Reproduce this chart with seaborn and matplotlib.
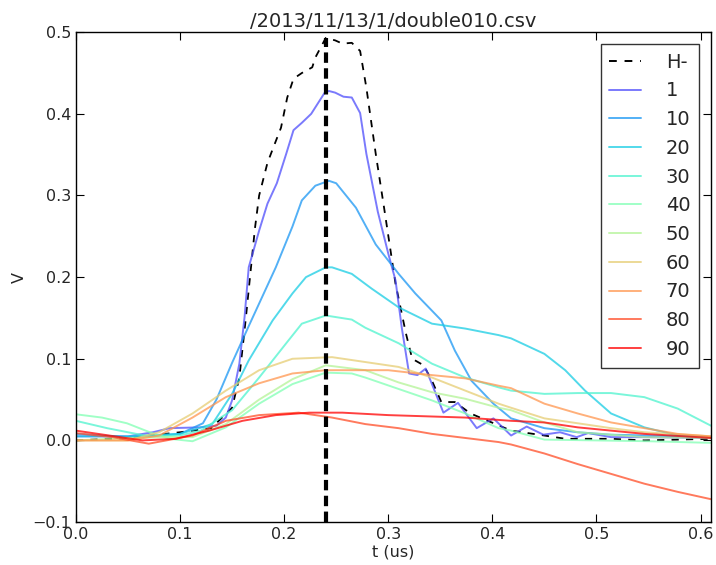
import numpy as np
import pandas as pd
import matplotlib
matplotlib.use("Agg")
import matplotlib.pyplot as plt
import seaborn as sns

# H- reference trace (dashed black)
t_h = [0, 0.05, 0.1, 0.13, 0.15, 0.157, 0.163, 0.172, 0.176, 0.184, 0.19, 0.197, 0.203, 0.209,
       0.217, 0.227, 0.23, 0.24, 0.249, 0.256, 0.265, 0.273, 0.279, 0.288, 0.296, 0.307, 0.317,
       0.323, 0.334, 0.342, 0.351, 0.364, 0.379, 0.418, 0.45, 0.47, 0.514, 0.546, 0.61]
v_h = [0, 0.003, 0.01, 0.015, 0.04, 0.077, 0.147, 0.26, 0.30, 0.34, 0.36, 0.383, 0.42, 0.443,
       0.45, 0.457, 0.469, 0.493, 0.49, 0.486, 0.487, 0.477, 0.432, 0.351, 0.285, 0.192, 0.131,
       0.10, 0.092, 0.073, 0.047, 0.047, 0.033, 0.012, 0.006, 0.002, 0.002, 0.0, 0.002]
t_peak = 0.24

labels = ["1", "10", "20", "30", "40", "50", "60", "70", "80", "90"]

t_1 = [0, 0.05, 0.074, 0.09, 0.119, 0.135, 0.144, 0.15, 0.157, 0.162, 0.166, 0.176, 0.184, 0.193,
       0.202, 0.209, 0.217, 0.226, 0.232, 0.239, 0.243, 0.249, 0.257, 0.265, 0.273, 0.279, 0.29,
       0.30, 0.307, 0.313, 0.32, 0.328, 0.336, 0.353, 0.367, 0.385, 0.401, 0.418, 0.433, 0.449,
       0.465, 0.481, 0.492, 0.514, 0.55, 0.61]
v_1 = [0.005, 0.005, 0.01, 0.015, 0.016, 0.018, 0.028, 0.049, 0.094, 0.151, 0.212, 0.257, 0.29,
       0.315, 0.351, 0.38, 0.389, 0.40, 0.412, 0.426, 0.428, 0.426, 0.421, 0.42, 0.401, 0.351,
       0.28, 0.229, 0.196, 0.138, 0.082, 0.08, 0.088, 0.034, 0.046, 0.015, 0.027, 0.006, 0.017,
       0.007, 0.01, 0.004, 0.009, 0.004, 0.004, 0.003]

t_10 = [0, 0.05, 0.1, 0.122, 0.135, 0.15, 0.166, 0.192, 0.208, 0.217, 0.23, 0.243, 0.25, 0.269,
        0.288, 0.31, 0.326, 0.351, 0.364, 0.38, 0.401, 0.418, 0.45, 0.482, 0.514, 0.55, 0.61]
v_10 = [0.008, 0.004, 0.008, 0.021, 0.05, 0.095, 0.14, 0.212, 0.262, 0.294, 0.312, 0.318, 0.315,
        0.285, 0.24, 0.204, 0.18, 0.147, 0.11, 0.073, 0.045, 0.027, 0.015, 0.01, 0.007, 0.006, 0.004]

t_20 = [0, 0.05, 0.1, 0.131, 0.15, 0.166, 0.189, 0.208, 0.221, 0.24, 0.246, 0.265, 0.284, 0.31,
        0.342, 0.374, 0.406, 0.418, 0.45, 0.47, 0.489, 0.514, 0.546, 0.578, 0.61]
v_20 = [0.005, 0.005, 0.008, 0.02, 0.057, 0.098, 0.147, 0.18, 0.2, 0.212, 0.212, 0.204, 0.186,
        0.163, 0.143, 0.137, 0.129, 0.125, 0.106, 0.086, 0.061, 0.033, 0.016, 0.006, 0.004]

t_30 = [0, 0.03, 0.07, 0.1, 0.12, 0.15, 0.176, 0.202, 0.217, 0.24, 0.265, 0.278, 0.31, 0.342,
        0.374, 0.406, 0.418, 0.45, 0.482, 0.514, 0.546, 0.578, 0.61]
v_30 = [0.024, 0.015, 0.005, 0.006, 0.012, 0.037, 0.077, 0.119, 0.143, 0.153, 0.148, 0.138,
        0.119, 0.094, 0.077, 0.065, 0.061, 0.057, 0.058, 0.058, 0.053, 0.039, 0.018]

t_40 = [0, 0.025, 0.049, 0.071, 0.09, 0.112, 0.144, 0.176, 0.208, 0.24, 0.265, 0.278, 0.31,
        0.342, 0.374, 0.406, 0.418, 0.45, 0.5, 0.55, 0.61]
v_40 = [0.032, 0.028, 0.021, 0.01, 0.002, -0.001, 0.016, 0.045, 0.069, 0.083, 0.082, 0.077,
        0.063, 0.049, 0.033, 0.015, 0.012, 0.001, 0.0, -0.001, -0.003]

t_50 = [0, 0.05, 0.09, 0.112, 0.144, 0.176, 0.208, 0.24, 0.278, 0.31, 0.342, 0.374, 0.406,
        0.418, 0.45, 0.482, 0.546, 0.61]
v_50 = [0.0, 0.003, 0.004, 0.004, 0.02, 0.05, 0.075, 0.092, 0.086, 0.071, 0.059, 0.051, 0.04,
        0.037, 0.022, 0.01, 0.004, 0.003]

t_60 = [0, 0.05, 0.08, 0.112, 0.144, 0.176, 0.208, 0.246, 0.278, 0.31, 0.342, 0.374, 0.406,
        0.418, 0.45, 0.482, 0.514, 0.546, 0.61]
v_60 = [0.0, 0.0, 0.01, 0.033, 0.061, 0.086, 0.1, 0.102, 0.096, 0.09, 0.077, 0.061, 0.045,
        0.04, 0.027, 0.021, 0.015, 0.01, 0.005]

t_70 = [0, 0.05, 0.08, 0.112, 0.144, 0.176, 0.208, 0.24, 0.30, 0.342, 0.374, 0.406, 0.418,
        0.45, 0.482, 0.514, 0.546, 0.578, 0.61]
v_70 = [0.0, 0.0, 0.006, 0.028, 0.053, 0.07, 0.082, 0.086, 0.086, 0.08, 0.076, 0.067, 0.064,
        0.045, 0.033, 0.022, 0.015, 0.008, 0.005]

t_80 = [0, 0.035, 0.07, 0.112, 0.144, 0.176, 0.214, 0.246, 0.278, 0.31, 0.342, 0.374, 0.406,
        0.418, 0.45, 0.482, 0.514, 0.546, 0.578, 0.61]
v_80 = [0.009, 0.004, -0.004, 0.006, 0.024, 0.031, 0.034, 0.028, 0.02, 0.015, 0.008, 0.003,
        -0.002, -0.005, -0.016, -0.029, -0.041, -0.053, -0.063, -0.072]

t_90 = [0, 0.032, 0.064, 0.096, 0.128, 0.16, 0.192, 0.224, 0.256, 0.30, 0.374, 0.418, 0.45,
        0.482, 0.514, 0.546, 0.61]
v_90 = [0.012, 0.006, 0.0, 0.002, 0.012, 0.024, 0.031, 0.034, 0.034, 0.031, 0.028, 0.024,
        0.022, 0.016, 0.012, 0.008, 0.003]

series_t = [t_1, t_10, t_20, t_30, t_40, t_50, t_60, t_70, t_80, t_90]
series_v = [v_1, v_10, v_20, v_30, v_40, v_50, v_60, v_70, v_80, v_90]

# long-form table for seaborn
frames = []
for lab, t, v in zip(labels, series_t, series_v):
    frames.append(pd.DataFrame({"t": t, "V": v, "run": lab}))
df = pd.concat(frames, ignore_index=True)
df_h = pd.DataFrame({"t": t_h, "V": v_h})

sns.set_style("ticks", {"xtick.direction": "in", "ytick.direction": "in",
                        "axes.edgecolor": "black"})
plt.rcParams['font.family'] = ['DejaVu Sans']

cmap = plt.get_cmap("rainbow")
palette = {lab: cmap((i + 1) / len(labels)) for i, lab in enumerate(labels)}

fig = plt.figure(figsize=(7.16, 5.65), dpi=100)
ax = fig.add_axes([0.106, 0.076, 0.887, 0.867])

sns.lineplot(data=df_h, x="t", y="V", ax=ax, color="black", linestyle=(0, (4, 4)),
             linewidth=1.3, label="H-", sort=False, estimator=None)
sns.lineplot(data=df, x="t", y="V", hue="run", palette=palette, ax=ax, linewidth=1.4,
             alpha=0.75, sort=False, estimator=None)
ax.vlines(t_peak, -0.1, max(v_h), colors="black", linestyles=[(0, (2.5, 1.3))], linewidth=3)

ax.set_xlim(0, 0.61)
ax.set_ylim(-0.1, 0.5)
ax.set_xticks([0.0, 0.1, 0.2, 0.3, 0.4, 0.5, 0.6])
ax.set_yticks([-0.1, 0.0, 0.1, 0.2, 0.3, 0.4, 0.5])
ax.tick_params(axis="both", which="both", top=True, right=True, labelsize=11.5,
               length=6, width=0.8, color="black")
for s in ax.spines.values():
    s.set_linewidth(1.0)
    s.set_color("black")

ax.set_title("/2013/11/13/1/double010.csv", fontsize=14, pad=4)
ax.set_xlabel("t (us)", fontsize=11.5, labelpad=2)
ax.set_ylabel("V", fontsize=11.5, labelpad=4)

leg = ax.legend(loc="upper right", fontsize=14, frameon=True, fancybox=False,
                handlelength=1.6, labelspacing=0.5, borderaxespad=0.6, handletextpad=1.3,
                borderpad=0.45)
leg.get_frame().set_edgecolor("black")
leg.get_frame().set_linewidth(1.0)
for line in leg.get_lines():
    line.set_linewidth(1.4)

fig.savefig("out.png", dpi=100)
